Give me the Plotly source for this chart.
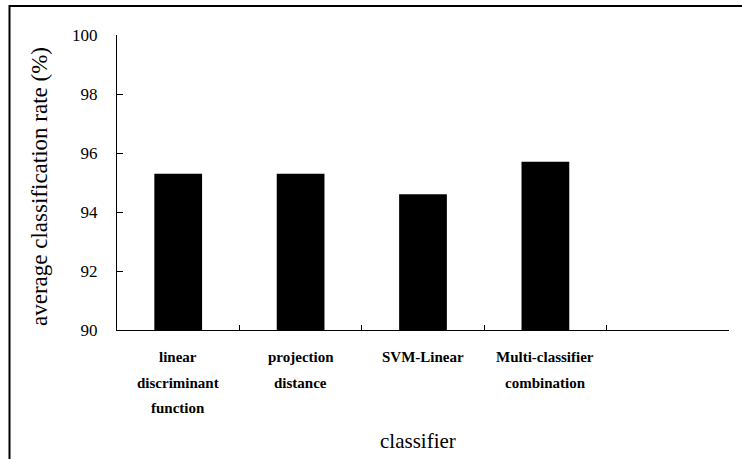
import plotly.graph_objects as go

# ---- data ----
categories = ["linear discriminant function", "projection distance", "SVM-Linear",
              "Multi-classifier combination", " "]
label_lines = [["linear", "discriminant", "function"],
               ["projection", "distance"],
               ["SVM-Linear"],
               ["Multi-classifier", "combination"],
               []]
rates = [95.3, 95.3, 94.6, 95.7, None]
y_ticks = [90, 92, 94, 96, 98, 100]
x_title = "classifier"
y_title = "average classification rate (%)"

W, H = 742, 459
L, R, T, B = 117, 13, 35, 129
pw, ph = W - L - R, H - T - B

def px_x(px):
    return (px - L) / pw

def px_y(py):
    return (H - B - py) / ph

serif = "Liberation Serif"

fig = go.Figure()
fig.add_trace(go.Bar(x=categories, y=rates, marker=dict(color="black", line=dict(width=0)),
                     hoverinfo="x+y"))

annotations = []
for cat, lines in zip(categories, label_lines):
    for i, ln in enumerate(lines):
        annotations.append(dict(x=cat, xref="x", y=0, yref="paper", text="<b>%s</b>" % ln,
                                showarrow=False, xanchor="center", yanchor="middle",
                                yshift=-(27 + 25.5 * i),
                                font=dict(family=serif, size=15, color="black", weight="bold")))

annotations.append(dict(x=px_x(418), y=px_y(441), xref="paper", yref="paper", text=x_title,
                        showarrow=False, xanchor="center", yanchor="middle",
                        font=dict(family=serif, size=21, color="black")))
annotations.append(dict(x=px_x(39), y=px_y(187), xref="paper", yref="paper", text=y_title,
                        showarrow=False, xanchor="center", yanchor="middle", textangle=-90,
                        font=dict(family=serif, size=23, color="black")))

fig.update_layout(
    width=W, height=H,
    margin=dict(l=L, r=R, t=T, b=B, pad=0),
    paper_bgcolor="white", plot_bgcolor="white",
    showlegend=False,
    bargap=0.61,
    font=dict(family=serif, color="black"),
    annotations=annotations,
    shapes=[dict(type="rect", xref="paper", yref="paper",
                 x0=px_x(9.5), x1=px_x(760), y0=px_y(480), y1=px_y(6),
                 line=dict(color="black", width=2), fillcolor="rgba(0,0,0,0)", layer="above")],
    xaxis=dict(type="category", categoryorder="array", categoryarray=categories,
               range=[-0.5, len(categories) - 0.5],
               showline=True, linecolor="black", linewidth=1,
               ticks="inside", tickson="boundaries", ticklen=5, tickcolor="black", tickwidth=1,
               showticklabels=False, showgrid=False, zeroline=False, fixedrange=True),
    yaxis=dict(range=[90, 100], tickvals=y_ticks, ticktext=[str(v) for v in y_ticks],
               showline=True, linecolor="black", linewidth=1,
               ticks="inside", ticklen=6, tickcolor="black", tickwidth=1,
               ticklabelstandoff=15,
               tickfont=dict(family=serif, size=17, color="black"),
               showgrid=False, zeroline=False, fixedrange=True),
)

fig.write_html("out.html", config={"displayModeBar": False},
               post_script="document.body.style.margin='0';document.body.style.overflow='hidden';")
